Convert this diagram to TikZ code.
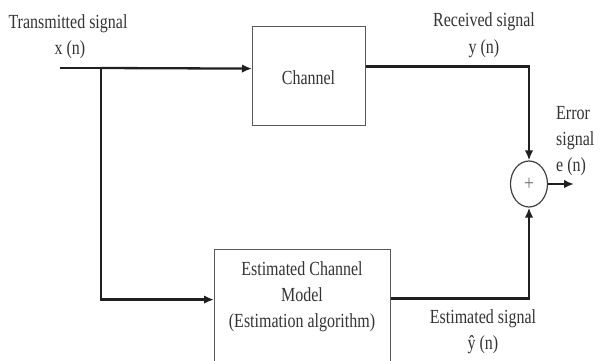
\documentclass[tikz,border=0pt]{standalone}
\usepackage{fontspec}
\setmainfont[FakeStretch=0.8]{Liberation Serif}
\usetikzlibrary{arrows.meta,shapes.geometric}
\begin{document}
\begin{tikzpicture}[x=1pt,y=-1pt,
  txt/.style={inner sep=0pt,text=black!80,font=\fontsize{20}{26}\selectfont,align=center},
  blk/.style={draw=black!65,line width=1.2pt,inner sep=0pt},
  conn/.style={draw=black!88,line width=2.3pt},
  arr/.style={conn,-{Latex[length=10pt,width=8.5pt]}}]
\useasboundingbox (0,0) rectangle (600,360);
\clip (0,0) rectangle (600,360);
% blocks
\node[blk,minimum width=113pt,minimum height=99pt,anchor=north west] (ch) at (252,26) {};
\node[txt] (chl) at (308.5,78) {Channel};
\node[blk,minimum width=176pt,minimum height=130pt,anchor=north west] (est) at (214,249) {};
\node[txt] (estl) at (302,297) {Estimated Channel\\Model\\(Estimation algorithm)};
\node[draw=black!75,line width=1.2pt,ellipse,minimum width=37pt,minimum height=46pt,inner sep=0pt] (sum) at (529,184) {};
\node[inner sep=0pt,text=black!55,font=\fontsize{22}{22}\selectfont] (plus) at (529,184) {+};
% coordinates
\coordinate (in) at (60,68);
\coordinate (br) at (101,68);
\coordinate (out) at (574,184);
% connectors
\draw[conn] (in) -- (br);
\draw[arr] (br) -- ([yshift=7.5pt]ch.west);
\draw[arr] (br) |- ([yshift=15pt]est.west);
\draw[arr] ([yshift=9.5pt]ch.east) -| (sum.north);
\draw[arr] ([yshift=16pt]est.east) -| (sum.south);
\draw[arr] (sum.east) -- (out);
% labels
\node[txt] (tx) at (68,24) {Transmitted signal};
\node[txt] (xn) at (70,50) {x (n)};
\node[txt] (rx) at (484,22) {Received signal};
\node[txt] (yn) at (484,49) {y (n)};
\node[txt,align=left,anchor=west] (err) at (556,141) {Error\\signal\\e (n)};
\node[txt] (es) at (483,319) {Estimated signal};
\node[txt] (yh) at (483,345) {ŷ (n)};
\end{tikzpicture}
\end{document}
